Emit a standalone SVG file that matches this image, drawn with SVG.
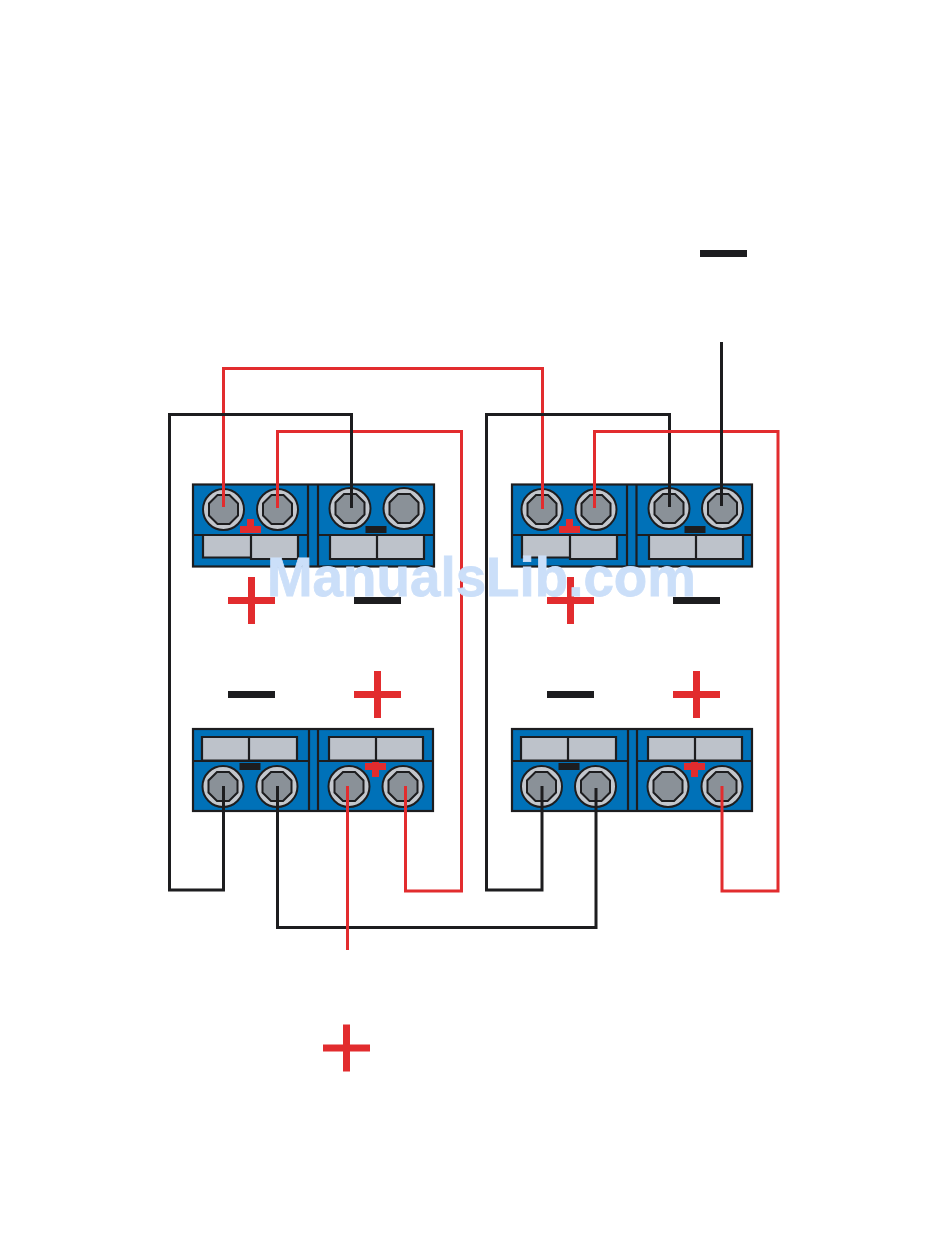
<svg xmlns="http://www.w3.org/2000/svg" xmlns:xlink="http://www.w3.org/1999/xlink" width="950" height="1260" viewBox="0 0 950 1260">
<style>
.box{fill:#0071b8;stroke:#1d1d1f;stroke-width:2.2}
.ln{fill:none;stroke:#1d1d1f;stroke-width:2.2}
.cell{fill:#bdc2ca;stroke:#1d1d1f;stroke-width:2.2}
.ring{fill:#c3c7cd;stroke:#1d1d1f;stroke-width:2}
.oct{fill:#8a9198;stroke:#1d1d1f;stroke-width:2}
.red{fill:#e22c2e}
.blk{fill:#1d1d1f}
.wr{fill:none;stroke:#e22c2e;stroke-width:3}
.wb{fill:none;stroke:#1d1d1f;stroke-width:3}
.wm{font-family:"Liberation Sans",Arial,sans-serif;font-weight:bold;font-size:56px;fill:#cbdff9;stroke:#cbdff9;stroke-width:.8}
</style>
<defs>
<g id="screw">
<circle class="ring" r="20.500"/>
<polygon class="oct" points="-6,-14.500 6,-14.500 14.500,-6 14.500,6 6,14.500 -6,14.500 -14.500,6 -14.500,-6"/>
</g>
<g id="bigplus"><rect class="red" x="-23.500" y="-3.500" width="47" height="7"/><rect class="red" x="-3.500" y="-23.500" width="7" height="47"/></g>
<rect id="bigminus" class="blk" x="-23.500" y="-3.500" width="47" height="7"/>
<g id="plusup"><rect class="red" x="-10.500" y="0" width="21" height="7"/><rect class="red" x="-3.500" y="-7" width="7" height="14"/></g>
<g id="plusdown"><rect class="red" x="-10.500" y="-3" width="21" height="7"/><rect class="red" x="-3.500" y="-4" width="7" height="15"/></g>
<rect id="smallminus" class="blk" x="-10.500" y="-3.500" width="21" height="7"/>
</defs>
<rect width="950" height="1260" fill="#ffffff"/>

<g id="terminal-top-left">
<rect class="box" x="193" y="484.500" width="241" height="82"/>
<path class="ln" d="M308 484.500V566.500M318 484.500V566.500M193 535H308M318 535H434"/>
<path class="cell" d="M203 535H251V557.500H203ZM251 535H298V559H251ZM330 535H377V559H330ZM377 535H424V559H377Z"/>
<use xlink:href="#screw" x="223.500" y="509.500"/><use xlink:href="#screw" x="277.500" y="509.500"/>
<use xlink:href="#screw" x="350" y="508.500"/><use xlink:href="#screw" x="404" y="508.500"/>
<use xlink:href="#plusup" x="250.500" y="526"/><use xlink:href="#smallminus" x="376" y="529.500"/>
</g>
<g id="terminal-top-right">
<rect class="box" x="512" y="484.500" width="240" height="82"/>
<path class="ln" d="M627 484.500V566.500M636.500 484.500V566.500M512 535H627M636.500 535H752"/>
<path class="cell" d="M522 535H570V557.500H522ZM570 535H617V559H570ZM649 535H696V559H649ZM696 535H743V559H696Z"/>
<use xlink:href="#screw" x="542" y="509.500"/><use xlink:href="#screw" x="596" y="509.500"/>
<use xlink:href="#screw" x="669" y="508.500"/><use xlink:href="#screw" x="722.500" y="508.500"/>
<use xlink:href="#plusup" x="569.500" y="526"/><use xlink:href="#smallminus" x="695" y="529.500"/>
</g>
<g id="terminal-bottom-left">
<rect class="box" x="193" y="729" width="240" height="82"/>
<path class="ln" d="M309 729V811M318 729V811M193 761H309M318 761H434"/>
<path class="cell" d="M202 737H249V760.500H202ZM249 737H297V760.500H249ZM329 737H376V760.500H329ZM376 737H423V760.500H376Z"/>
<use xlink:href="#screw" x="223" y="786.500"/><use xlink:href="#screw" x="277" y="786.500"/>
<use xlink:href="#screw" x="349" y="786.500"/><use xlink:href="#screw" x="403" y="786.500"/>
<use xlink:href="#smallminus" x="250" y="766.500"/><use xlink:href="#plusdown" x="375.500" y="766"/>
</g>
<g id="terminal-bottom-right">
<rect class="box" x="512" y="729" width="240" height="82"/>
<path class="ln" d="M628 729V811M637 729V811M512 761H628M637 761H752"/>
<path class="cell" d="M521 737H568V760.500H521ZM568 737H616V760.500H568ZM648 737H695V760.500H648ZM695 737H742V760.500H695Z"/>
<use xlink:href="#screw" x="541.500" y="786.500"/><use xlink:href="#screw" x="595.500" y="786.500"/>
<use xlink:href="#screw" x="668" y="786.500"/><use xlink:href="#screw" x="722" y="786.500"/>
<use xlink:href="#smallminus" x="569" y="766.500"/><use xlink:href="#plusdown" x="694.500" y="766"/>
</g>

<g id="connectors">
<path class="wr" d="M223.500 507V368.500H542.500V509"/>
<path class="wr" d="M277.500 508V431.500H461.500V891H405.500V786"/>
<path class="wb" d="M351.500 508V414.500H169.500V890H223.500V786"/>
<path class="wb" d="M277.500 786V927.500H596V788"/>
<path class="wr" d="M347.500 786V950"/>
<path class="wb" d="M669.500 507V414.500H486.500V890H542V786"/>
<path class="wr" d="M594.500 508V431.500H778V891H722V786"/>
<path class="wb" d="M721.500 342V506"/>
</g>

<g id="sign-minus-top"><use xlink:href="#bigminus" x="723.500" y="253.500"/></g>
<g id="sign-plus-bottom"><use xlink:href="#bigplus" x="346.500" y="1048"/></g>
<g id="sign-plus-1"><use xlink:href="#bigplus" x="251.500" y="600.500"/></g>
<g id="sign-minus-1"><use xlink:href="#bigminus" x="377.500" y="600.500"/></g>
<g id="sign-plus-2"><use xlink:href="#bigplus" x="570.500" y="600.500"/></g>
<g id="sign-minus-2"><use xlink:href="#bigminus" x="696.500" y="600.500"/></g>
<g id="sign-minus-3"><use xlink:href="#bigminus" x="251.500" y="694.500"/></g>
<g id="sign-plus-3"><use xlink:href="#bigplus" x="377.500" y="694.500"/></g>
<g id="sign-minus-4"><use xlink:href="#bigminus" x="570.500" y="694.500"/></g>
<g id="sign-plus-4"><use xlink:href="#bigplus" x="696.500" y="694.500"/></g>

<text class="wm" x="267" y="596" textLength="429" lengthAdjust="spacingAndGlyphs">ManualsLib.com</text>
</svg>
